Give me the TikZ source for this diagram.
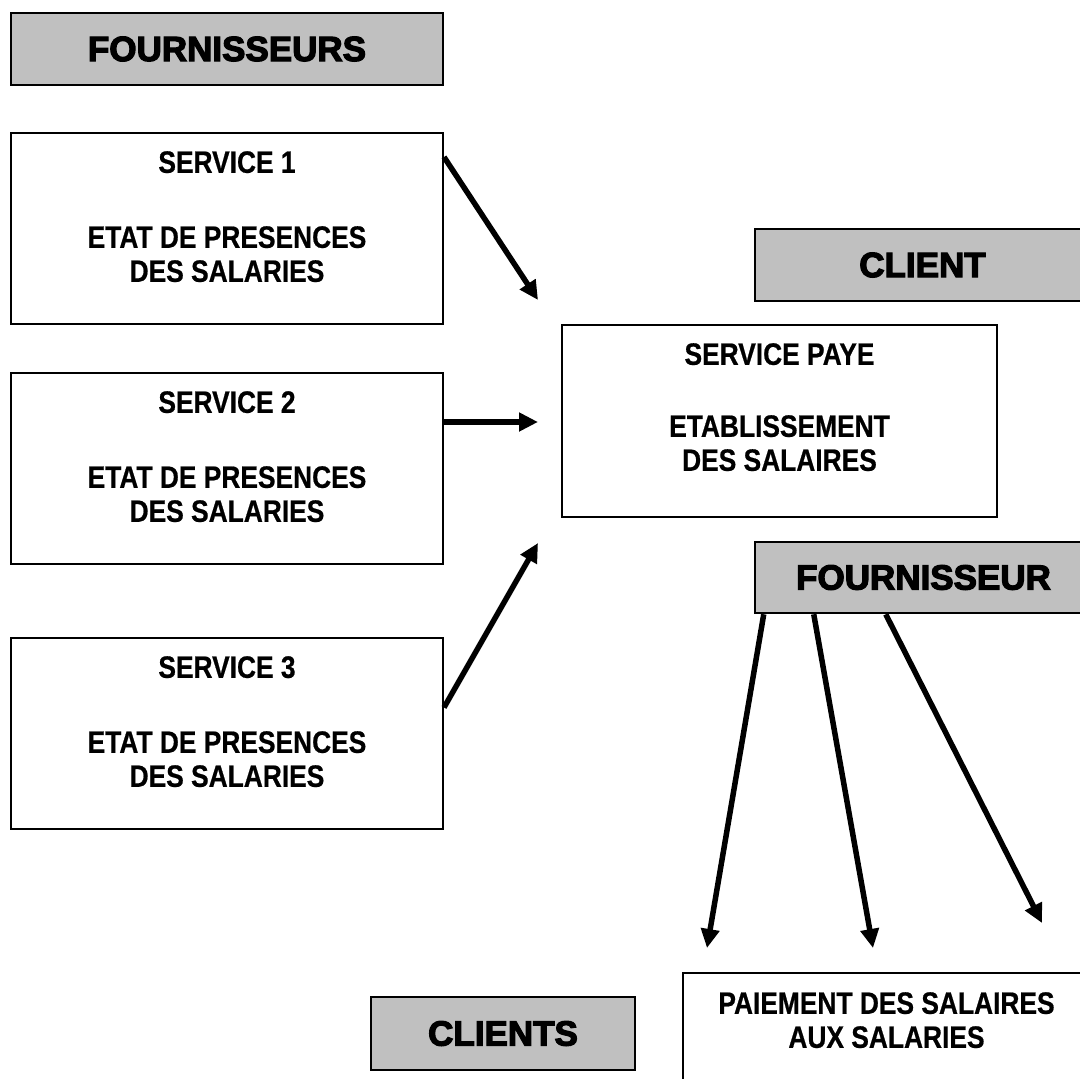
\documentclass[tikz,border=0pt]{standalone}
\usepackage{fontspec}
\setmainfont{Liberation Sans}
% narrow bold face for the white boxes, heavy face for the grey tags
\newfontfamily\boxfont{Liberation Sans}[FakeStretch=0.85,BoldFeatures={FakeBold=0.6}]
\newfontfamily\tagfont{Liberation Sans}[BoldFeatures={FakeBold=3.5}]
\usetikzlibrary{arrows.meta}
\definecolor{tagfill}{RGB}{192,192,192}
\begin{document}
\begin{tikzpicture}[x=1pt,y=-1pt,
  whitebox/.style={draw=black,line width=2pt,fill=white,rectangle,inner sep=0pt},
  tagbox/.style={draw=black,line width=2.5pt,fill=tagfill,rectangle,inner sep=0pt,
    font=\tagfont\bfseries\fontsize{35}{40}\selectfont},
  boxtext/.style={anchor=north,inner sep=0pt,align=center,
    font=\boxfont\bfseries\fontsize{31}{34}\selectfont},
  flow/.style={line width=5.5pt,-{Triangle[length=19pt,width=18pt]}}]
\useasboundingbox (0,0) rectangle (1080,1079);
\clip (0,0) rectangle (1080,1079);

% grey tags
\node[tagbox,minimum width=432pt,minimum height=72pt] (fournisseurs) at (227,49) {FOURNISSEURS};
\node[tagbox,minimum width=335pt,minimum height=72pt] (client) at (922.5,265) {CLIENT};
\node[tagbox,minimum width=337pt,minimum height=71pt] (fournisseur) at (923.5,577.5) {FOURNISSEUR};
\node[tagbox,minimum width=264pt,minimum height=73pt] (clients) at (503,1033.5) {CLIENTS};

% the three services
\node[whitebox,minimum width=432pt,minimum height=191pt] (s1) at (227,228.5) {};
\node[boxtext] (s1t) at (227,151) {SERVICE 1\\[41pt]ETAT DE PRESENCES\\DES SALARIES};
\node[whitebox,minimum width=432pt,minimum height=191pt] (s2) at (227,468.5) {};
\node[boxtext] (s2t) at (227,391) {SERVICE 2\\[41pt]ETAT DE PRESENCES\\DES SALARIES};
\node[whitebox,minimum width=432pt,minimum height=191pt] (s3) at (227,733.5) {};
\node[boxtext] (s3t) at (227,656) {SERVICE 3\\[41pt]ETAT DE PRESENCES\\DES SALARIES};

% payroll service
\node[whitebox,minimum width=435pt,minimum height=192pt] (paye) at (779.5,421) {};
\node[boxtext] (payet) at (779.5,343) {SERVICE PAYE\\[38pt]ETABLISSEMENT\\DES SALAIRES};

% payment
\node[whitebox,minimum width=407pt,minimum height=180pt] (paiement) at (886.5,1063) {};
\node[boxtext] (paiementt) at (886.5,992) {PAIEMENT DES SALAIRES\\AUX SALARIES};

% arrow tips
\coordinate (t1) at (538,300);
\coordinate (t2) at (538,422);
\coordinate (t3) at (538,543);
\coordinate (t4) at (707,948);
\coordinate (t5) at (873,948);
\coordinate (t6) at (1042,923);

\draw[flow] ([yshift=-25pt]s1.north east) -- (t1);
\draw[flow] ([yshift=46.5pt]s2.east) -- (t2);
\draw[flow] ([yshift=26pt]s3.east) -- (t3);
\draw[flow] ([xshift=10pt]fournisseur.south west) -- (t4);
\draw[flow] ([xshift=60pt]fournisseur.south west) -- (t5);
\draw[flow] ([xshift=132pt]fournisseur.south west) -- (t6);
\end{tikzpicture}
\end{document}
